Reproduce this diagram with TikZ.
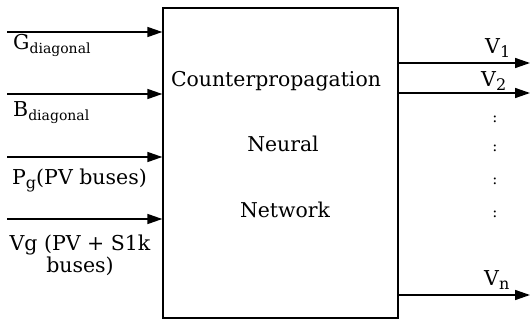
\documentclass[tikz,border=0pt]{standalone}
\usepackage{fontspec}
\setmainfont{DejaVu Serif}
\usetikzlibrary{arrows.meta}
\newcommand{\lsub}[2][14]{\raisebox{-4pt}{\fontsize{#1}{#1}\selectfont #2}}

\begin{document}
\begin{tikzpicture}[x=1pt,y=-1pt,
		arr/.style={draw=black,line width=1.5pt,-{Triangle[length=15pt,width=10pt]}},
		lbl/.style={anchor=base west,font=\fontsize{20.5}{22}\selectfont},
		boxtext/.style={anchor=base,font=\fontsize{20.4}{22}\selectfont}]
			\tikzstyle{every node}+=[inner sep=0pt]
			\useasboundingbox (0,0) rectangle (531,321);
			% network block
			\node [draw,line width=1.3pt,minimum width=235pt,minimum height=310pt] (cpn) at (280.5,163) {};
			\node [boxtext] (cpn1) at (276,87) {Counterpropagation};
			\node [boxtext] (cpn2) at (283,152) {Neural};
			\node [boxtext] (cpn3) at (285,218) {Network};
			% inputs
			\foreach \y/\nm in {32/gin,94/bin,157/pin,219/vin} {
				\coordinate (\nm) at (7,\y);
				\draw [arr] (\nm) -- (\nm -| cpn.west);
			}
			\node [lbl] (glab) at (13,50) {G\lsub{diagonal}};
			\node [lbl] (blab) at (13,117) {B\lsub{diagonal}};
			\node [lbl] (plab) at (12,185) {P\lsub[16]{g}(PV buses)};
			\node [lbl,anchor=north,align=center] (vlab) at (80,235) {Vg (PV + S1k\\buses)};
			% outputs
			\foreach \y/\nm in {63/vo1,93/vo2,295/von} {
				\coordinate (\nm) at (530,\y);
				\draw [arr] (\nm -| cpn.east) -- (\nm);
			}
			\node [lbl] (v1lab) at (485,54) {V\lsub[16]{1}};
			\node [lbl] (v2lab) at (481,87) {V\lsub[16]{2}};
			\node [lbl] (vnlab) at (484,285) {V\lsub[16]{n}};
			\foreach \y/\nm in {119/d1,148/d2,181/d3,214/d4}
				\node [font=\fontsize{15}{15}\selectfont] (\nm) at (495,\y) {:};
\end{tikzpicture}
\end{document}
